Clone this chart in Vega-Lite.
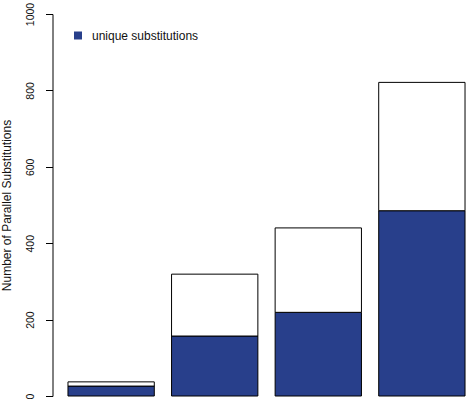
{
  "$schema": "https://vega.github.io/schema/vega-lite/v6.json",
  "width": 421.5,
  "height": 382,
  "autosize": "none",
  "padding": {"left": 52.5, "top": 14, "right": 0, "bottom": 9},
  "background": "white",
  "config": {
    "view": {"stroke": null},
    "font": "Liberation Sans"
  },
  "data": {
    "values": [
      {"group": "A", "segment": "unique substitutions", "ord": 1, "value": 26},
      {"group": "A", "segment": "other", "ord": 2, "value": 11},
      {"group": "B", "segment": "unique substitutions", "ord": 1, "value": 157},
      {"group": "B", "segment": "other", "ord": 2, "value": 162},
      {"group": "C", "segment": "unique substitutions", "ord": 1, "value": 219},
      {"group": "C", "segment": "other", "ord": 2, "value": 221},
      {"group": "D", "segment": "unique substitutions", "ord": 1, "value": 485},
      {"group": "D", "segment": "other", "ord": 2, "value": 336}
    ]
  },
  "mark": {"type": "bar", "stroke": "black", "strokeWidth": 1, "opacity": 1},
  "encoding": {
    "x": {
      "field": "group",
      "type": "nominal",
      "axis": null,
      "scale": {"paddingInner": 0.1667, "paddingOuter": 0.118, "align": 0.633}
    },
    "y": {
      "field": "value",
      "type": "quantitative",
      "stack": "zero",
      "scale": {"domain": [0, 1000], "nice": false},
      "axis": {
        "values": [0, 200, 400, 600, 800, 1000],
        "format": "d",
        "grid": false,
        "domainColor": "black",
        "tickColor": "black",
        "tickSize": 7,
        "labelPadding": 10,
        "labelAngle": -90,
        "labelAlign": "center",
        "labelBaseline": "bottom",
        "labelFontSize": 10.5,
        "labelColor": "#111",
        "labelFont": "Liberation Sans",
        "labelOverlap": false,
        "labelFlush": false,
        "title": "Number of Parallel Substitutions",
        "titleFont": "Liberation Sans",
        "titleFontSize": 12,
        "titleFontWeight": "normal",
        "titleColor": "#111",
        "titleAngle": -90,
        "titleAlign": "center",
        "titleBaseline": "alphabetic",
        "titleX": -42.5,
        "titleY": 191
      }
    },
    "fill": {
      "field": "segment",
      "type": "nominal",
      "scale": {"domain": ["unique substitutions", "other"], "range": ["#283f8b", "#ffffff"]},
      "legend": {
        "values": ["unique substitutions"],
        "orient": "none",
        "legendX": 19.5,
        "legendY": 15.5,
        "title": null,
        "padding": 0,
        "symbolType": "square",
        "symbolSize": 64,
        "symbolStrokeWidth": 0,
        "symbolOpacity": 1,
        "labelFont": "Liberation Sans",
        "labelFontSize": 12,
        "labelColor": "#111",
        "labelOffset": 8
      }
    },
    "order": {"field": "ord", "type": "quantitative"}
  }
}
